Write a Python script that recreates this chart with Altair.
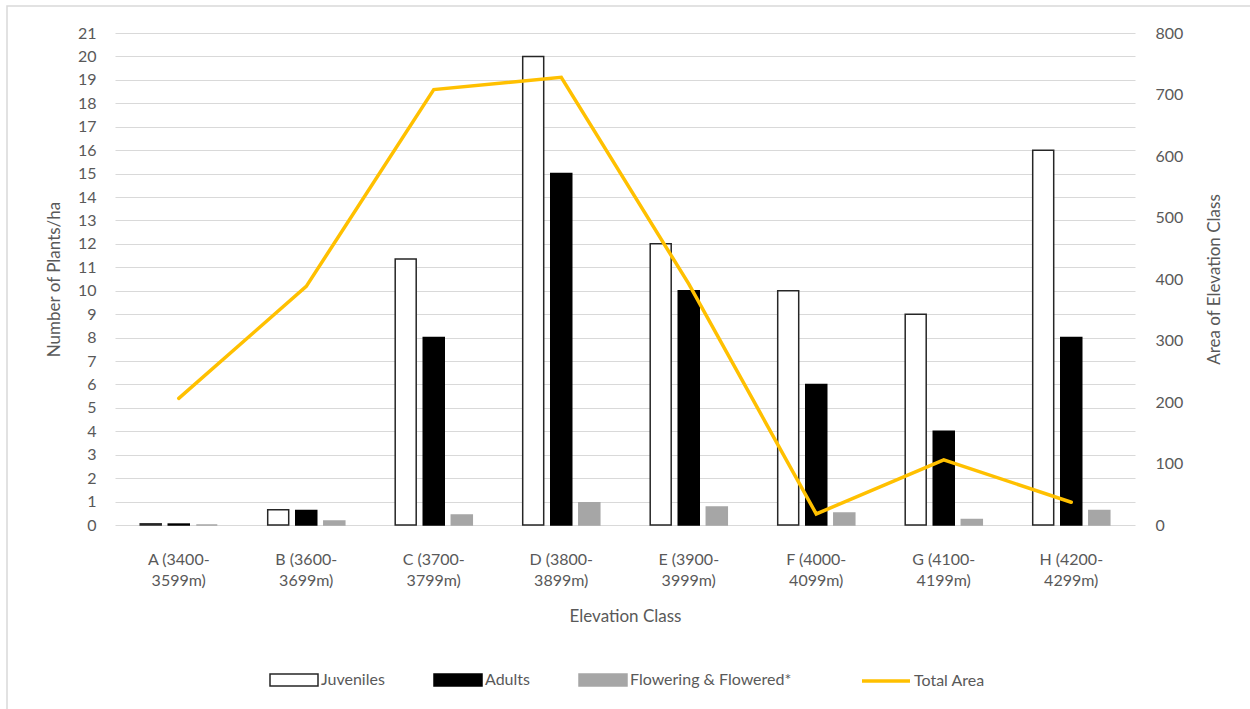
import altair as alt
import pandas as pd

# Elevation classes (label split into two lines on the axis)
classes = [
    "A (3400-3599m)", "B (3600-3699m)", "C (3700-3799m)", "D (3800-3899m)",
    "E (3900-3999m)", "F (4000-4099m)", "G (4100-4199m)", "H (4200-4299m)",
]
series_names = ["Juveniles", "Adults", "Flowering & Flowered*"]

# Plants per hectare by elevation class
juveniles = [0.05, 0.65, 11.35, 20, 12, 10, 9, 16]
adults = [0.04, 0.62, 8, 15, 10, 6, 4, 8]
flowering = [0, 0.17, 0.43, 0.95, 0.77, 0.51, 0.23, 0.62]

# Total area of each elevation class
total_area = [206, 388, 708, 728, 392, 18, 106, 37]

rows = []
for name, vals in zip(series_names, [juveniles, adults, flowering]):
    for c, v in zip(classes, vals):
        rows.append({"cls": c, "series": name, "value": v})
bars_df = pd.DataFrame(rows)
area_df = pd.DataFrame({"cls": classes, "area": total_area, "label": "Total Area"})

GREY_TXT = "#595959"
GRID = "#d9d9d9"
FONT = "Lato"

x_enc = alt.X(
    "cls:N",
    sort=classes,
    scale=alt.Scale(paddingInner=0.34, paddingOuter=0.17),
    axis=alt.Axis(
        title="Elevation Class",
        labelExpr="[slice(datum.label, 0, 8), slice(datum.label, 8)]",
        labelAngle=0,
        labelPadding=26,
        labelLineHeight=21,
        labelFontSize=16,
        labelColor=GREY_TXT,
        titleFontSize=17,
        titleFontWeight="normal",
        titleColor=GREY_TXT,
        titlePadding=20,
        domain=False,
        ticks=False,
        grid=False,
    ),
)

# wide flat rectangle / flat line used as legend swatches
rect_path = "M-2,-0.5H2V0.5H-2Z"
line_path = "M-2,0H2"

legend_common = dict(
    title=None,
    orient="none",
    direction="horizontal",
    symbolSize=576,
    labelFontSize=16,
    labelColor=GREY_TXT,
    labelOffset=14,
    labelLimit=300,
    legendY=634,
)

bar_legend = alt.Legend(
    legendX=166,
    symbolType=rect_path,
    symbolStrokeWidth=1.5,
    columnPadding=46,
    **legend_common,
)

bars = alt.Chart(bars_df).mark_bar(size=21, strokeWidth=1.5).encode(
    x=x_enc,
    xOffset=alt.XOffset("series:N", sort=series_names, scale=alt.Scale(paddingInner=0, paddingOuter=0)),
    y=alt.Y(
        "value:Q",
        scale=alt.Scale(domain=[0, 21], nice=False),
        axis=alt.Axis(
            title="Number of Plants/ha",
            values=list(range(0, 22)),
            orient="left",
            grid=True,
            gridColor=GRID,
            domain=False,
            ticks=False,
            labelPadding=19,
            labelFontSize=16,
            labelColor=GREY_TXT,
            titleFontSize=17,
            titleFontWeight="normal",
            titleColor=GREY_TXT,
            titlePadding=14,
        ),
    ),
    fill=alt.Fill(
        "series:N",
        sort=series_names,
        scale=alt.Scale(domain=series_names, range=["#ffffff", "#000000", "#a6a6a6"]),
        legend=bar_legend,
    ),
    stroke=alt.Stroke(
        "series:N",
        sort=series_names,
        scale=alt.Scale(domain=series_names, range=["#262626", "#000000", "#a6a6a6"]),
        legend=bar_legend,
    ),
)

line = alt.Chart(area_df).mark_line(strokeWidth=3.5, strokeCap="round").encode(
    x=alt.X("cls:N", sort=classes),
    y=alt.Y(
        "area:Q",
        scale=alt.Scale(domain=[0, 800], nice=False),
        axis=alt.Axis(
            title="Area of Elevation Class",
            values=list(range(0, 900, 100)),
            orient="right",
            grid=False,
            domain=False,
            ticks=False,
            labelPadding=20,
            labelFontSize=16,
            labelColor=GREY_TXT,
            titleFontSize=17,
            titleFontWeight="normal",
            titleColor=GREY_TXT,
            titleAngle=270,
            titlePadding=41,
        ),
    ),
    color=alt.Color(
        "label:N",
        scale=alt.Scale(domain=["Total Area"], range=["#ffc000"]),
        legend=alt.Legend(
            legendX=757,
            symbolType=line_path,
            symbolStrokeWidth=3.5,
            **legend_common,
        ),
    ),
)

# Thin frame around the whole figure
frame = alt.Chart(alt.Data(values=[{}])).mark_rect(
    fill="transparent", stroke=GRID, strokeWidth=1.5
).encode(
    x=alt.value(-108), x2=alt.value(1145), y=alt.value(-27), y2=alt.value(690)
)

chart = (
    alt.layer(frame, bars, line)
    .resolve_scale(y="independent")
    .properties(
        width=1020,
        height=492,
        autosize=alt.AutoSizeParams(type="none"),
        padding={"left": 115, "top": 33, "right": 115, "bottom": 184},
        background="white",
    )
    .configure(font=FONT)
    .configure_view(stroke=None)
)

chart.save("out.html", embed_options={"renderer": "svg", "actions": False})
